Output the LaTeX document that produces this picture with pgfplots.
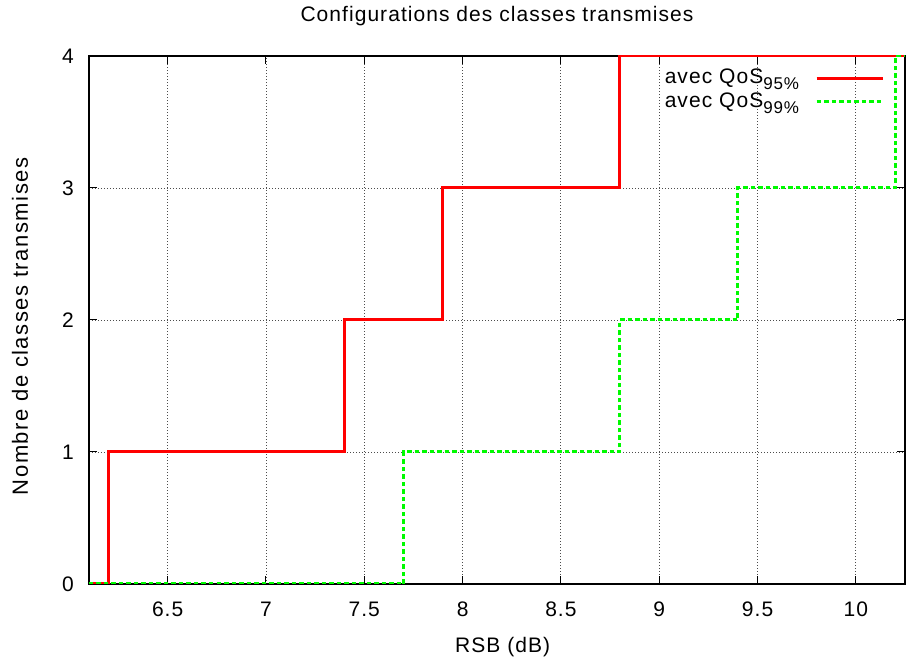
\documentclass[border=0pt]{standalone}
\usepackage{pgfplots}
\pgfplotsset{compat=1.18}
\usepackage{fontspec}
\setmainfont{Liberation Sans}[LetterSpace=5]
\definecolor{gpred}{RGB}{255,0,0}
\definecolor{gpgreen}{RGB}{0,250,0}
\newcommand{\sub}[1]{\raisebox{-6bp}{\fontsize{17bp}{17bp}\selectfont #1}}
\begin{document}
\fontsize{21bp}{25bp}\selectfont
\begin{tikzpicture}
\begin{axis}[
  scale only axis,
  width=816bp, height=528bp,
  xmin=6.1, xmax=10.25,
  ymin=0, ymax=4,
  xtick={6.5,7,7.5,8,8.5,9,9.5,10},
  ytick={0,1,2,3,4},
  /pgf/number format/assume math mode=true,
  tick align=inside,
  major tick length=8bp,
  every tick/.style={black, line width=1bp},
  axis line style={black, line width=1.3bp},
  grid=major,
  major grid style={black!70, line width=0.9bp, dash pattern=on 1bp off 2bp},
  xticklabel style={anchor=base, yshift=-33bp, inner sep=0pt},
  yticklabel style={anchor=east, xshift=-15bp, inner sep=0pt},
  title={Configurations des classes transmises},
  title style={at={(axis description cs:0.5,1)}, anchor=base, yshift=28.7bp, inner sep=0pt},
  xlabel={RSB (dB)},
  xlabel style={at={(axis description cs:0.507,0)}, anchor=base, yshift=-68.4bp, inner sep=0pt},
  ylabel={\fontsize{22bp}{25bp}\selectfont\addfontfeature{LetterSpace=7}Nombre de classes transmises},
  ylabel style={at={(axis description cs:-0.0748,0.488)}, anchor=base, inner sep=0pt},
  legend cell align=left,
  legend plot pos=right,
  legend style={draw=none, fill=none, inner sep=0pt, outer sep=0pt,
    at={(axis description cs:1,1)}, anchor=north east, xshift=-21bp, yshift=-11bp,
    column sep=16bp, row sep=0.3bp,
    nodes={inner sep=0pt, text height=17bp, text depth=6bp}},
  legend image code/.code={\draw[#1] (0bp,0bp) -- (66bp,0bp);},
]
\addplot[const plot, color=gpred, line width=3bp] coordinates {
  (6.1,0) (6.2,1) (7.4,2) (7.9,3) (8.8,4) (10.25,4)
};
\addlegendentry{avec QoS\sub{95\%}}
\addplot[const plot, color=gpgreen, line width=3bp, dash pattern=on 4.5bp off 3bp] coordinates {
  (6.1,0) (7.7,1) (8.8,2) (9.4,3) (10.2,4) (10.25,4)
};
\addlegendentry{avec QoS\sub{99\%}}
\end{axis}
\pgfresetboundingbox
\path ([shift={(-89bp,-74bp)}]current axis.south west) rectangle ([shift={(3bp,56bp)}]current axis.north east);
\end{tikzpicture}
\end{document}
